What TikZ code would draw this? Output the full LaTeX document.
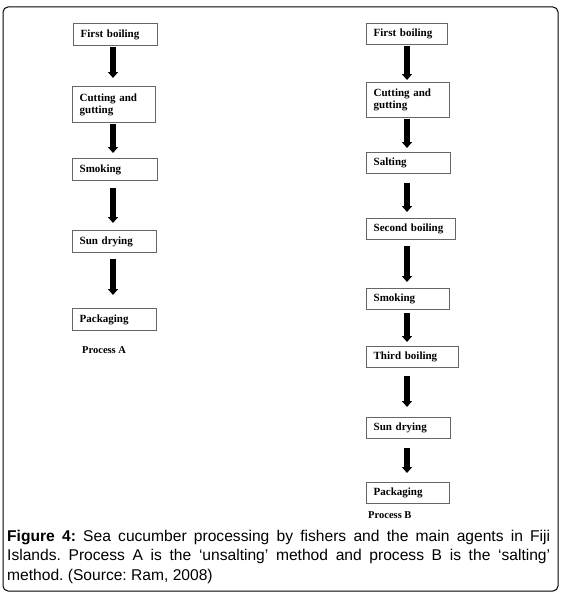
\documentclass[tikz,border=0pt]{standalone}
\usepackage{fontspec}
\setmainfont{Liberation Serif}
\newfontfamily\capfont{Liberation Sans}
\usetikzlibrary{arrows.meta}
\hyphenpenalty=10000
\exhyphenpenalty=10000
\frenchspacing
\tikzset{
  stepbox/.style={draw=black!60, line width=1.3pt, fill=white, anchor=north west,
    inner xsep=7pt, inner ysep=2pt, align=left,
    font=\bfseries\fontsize{11}{12}\selectfont},
  arr/.style={line width=5.4pt, -{Triangle[width=10pt,length=6pt]}},
  plabel/.style={anchor=west, inner sep=0pt, font=\bfseries\fontsize{10.5}{12}\selectfont}
}
\begin{document}
\begin{tikzpicture}[x=1pt,y=-1pt]
\useasboundingbox[fill=white] (0,0) rectangle (561,594);
\draw[line width=1pt, rounded corners=5pt] (3,7) rectangle (558,591);
% Process A
\node[stepbox, text width=70pt, minimum height=22pt] (a1) at (73,23) {First boiling};
\node[stepbox, text width=69pt, minimum height=36pt] (a2) at (72,86) {Cutting and\\gutting};
\node[stepbox, text width=71pt, minimum height=22pt] (a3) at (72,158) {Smoking};
\node[stepbox, text width=70pt, minimum height=22pt] (a4) at (72,230) {Sun drying};
\node[stepbox, text width=70pt, minimum height=22pt] (a5) at (72,308) {Packaging};
\node[plabel] (pa) at (82,350) {Process A};
\coordinate (ax) at (113,0);
\draw[arr, shorten <=1pt, shorten >=8pt] (ax |- a1.south) -- (ax |- a2.north);
\draw[arr, shorten <=1pt, shorten >=5pt] (ax |- a2.south) -- (ax |- a3.north);
\draw[arr, shorten <=7pt, shorten >=7pt] (ax |- a3.south) -- (ax |- a4.north);
\draw[arr, shorten <=6pt, shorten >=13pt] (ax |- a4.south) -- (ax |- a5.north);
% Process B
\node[stepbox, text width=67pt, minimum height=21pt] (b1) at (366,23) {First boiling};
\node[stepbox, text width=69pt, minimum height=35pt] (b2) at (366,82) {Cutting and\\gutting};
\node[stepbox, text width=70pt, minimum height=21pt] (b3) at (366,152) {Salting};
\node[stepbox, text width=75pt, minimum height=21pt] (b4) at (366,218) {Second boiling};
\node[stepbox, text width=69pt, minimum height=21pt] (b5) at (366,288) {Smoking};
\node[stepbox, text width=78pt, minimum height=21pt] (b6) at (366,346) {Third boiling};
\node[stepbox, text width=70pt, minimum height=21pt] (b7) at (366,417) {Sun drying};
\node[stepbox, text width=69pt, minimum height=21pt] (b8) at (366,482) {Packaging};
\node[plabel] (pb) at (368,515) {Process B};
\coordinate (bx) at (407,0);
\draw[arr, shorten <=1pt, shorten >=2pt] (bx |- b1.south) -- (bx |- b2.north);
\draw[arr, shorten <=1pt, shorten >=4pt] (bx |- b2.south) -- (bx |- b3.north);
\draw[arr, shorten <=9pt, shorten >=6pt] (bx |- b3.south) -- (bx |- b4.north);
\draw[arr, shorten <=6pt, shorten >=6pt] (bx |- b4.south) -- (bx |- b5.north);
\draw[arr, shorten <=3pt, shorten >=4pt] (bx |- b5.south) -- (bx |- b6.north);
\draw[arr, shorten <=8pt, shorten >=10pt] (bx |- b6.south) -- (bx |- b7.north);
\draw[arr, shorten <=9pt, shorten >=9pt] (bx |- b7.south) -- (bx |- b8.north);
% Caption
\node[anchor=north west, inner sep=0pt, text width=543pt, align=justify,
  font=\capfont\fontsize{15.6}{19.5}\selectfont] (cap) at (7,529.5)
  {\textbf{Figure 4:} Sea cucumber processing by fishers and the main agents in Fiji Islands. Process A is the ‘unsalting’ method and process B is the ‘salting’ method. (Source: Ram, 2008)};
\end{tikzpicture}
\end{document}
